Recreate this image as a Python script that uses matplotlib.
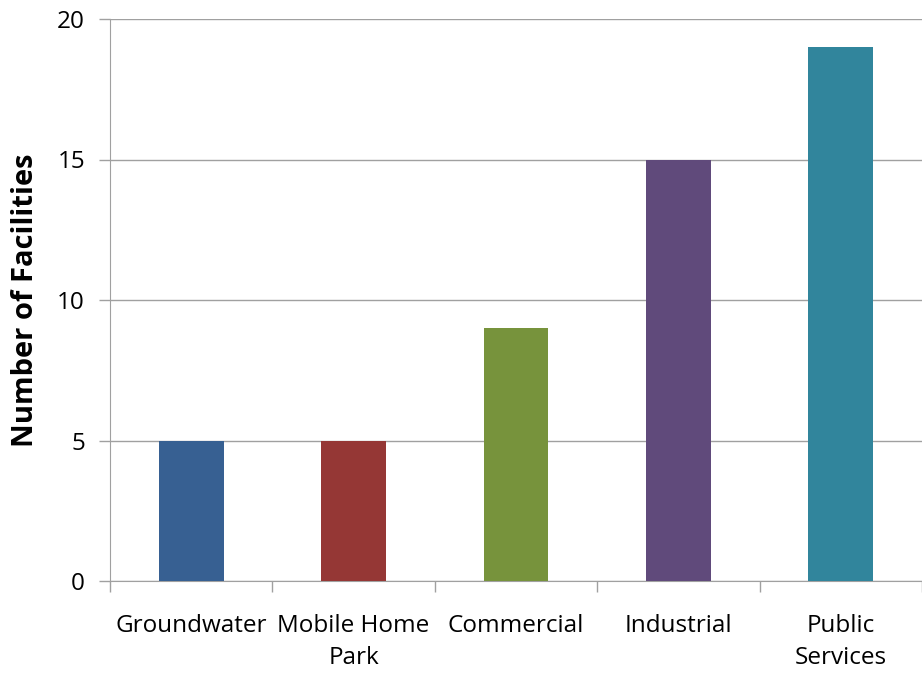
import numpy as np
from matplotlib import pyplot as plt

# DONNEES
categories = ['Groundwater', 'Mobile Home\nPark', 'Commercial', 'Industrial', 'Public\nServices']
valeurs = [5, 5, 9, 15, 19]
couleurs = ['#376092', '#953735', '#77933C', '#604A7B', '#31859C']
yticks = [0, 5, 10, 15, 20]

plt.rcParams['font.family'] = ['Open Sans', 'DejaVu Sans']

fig = plt.figure(figsize=(9.22, 6.73), dpi=100)
ax = fig.add_axes([110/922, 1 - 581/673, 812/922, (581 - 19)/673])

x = np.arange(len(categories))
ax.bar(x, valeurs, width=0.4, color=couleurs, zorder=3)

ax.set_xlim(-0.5, len(categories) - 0.5)
ax.set_ylim(0, 20)
ax.set_yticks(yticks)
ax.yaxis.grid(True, color='#A0A0A0', linewidth=1, zorder=0)

# ticks de categorie aux frontieres
ax.set_xticks(np.arange(len(categories) + 1) - 0.5)
ax.set_xticklabels([])
ax.set_xticks(x, minor=True)
ax.set_xticklabels(categories, minor=True, fontsize=17.5, linespacing=1.45, va='top')
ax.tick_params(axis='x', which='major', length=8, color='#A0A0A0', width=1)
ax.tick_params(axis='x', which='minor', length=0, pad=24)
ax.tick_params(axis='y', length=8, color='#A0A0A0', width=1, labelsize=17.5, pad=10)

for s in ['top', 'right']:
    ax.spines[s].set_visible(False)
for s in ['left', 'bottom']:
    ax.spines[s].set_color('#A0A0A0')

ax.set_ylabel('Number of Facilities', fontsize=21, fontweight='bold', labelpad=12)

fig.savefig('out.png', dpi=100)
